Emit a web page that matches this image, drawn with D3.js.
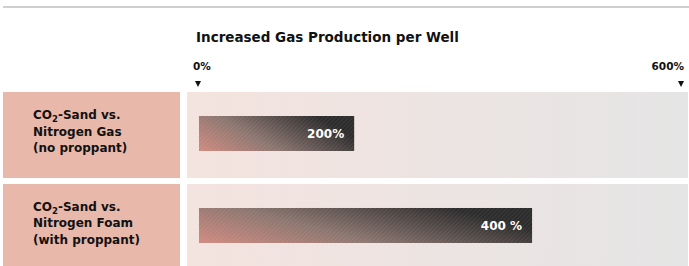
<!DOCTYPE html>
<html>
<head>
<meta charset="utf-8">
<script src="https://cdn.jsdelivr.net/npm/d3@7"></script>
<style>
  html, body { margin: 0; padding: 0; background: #fff; }
  svg { display: block; font-family: "DejaVu Sans", sans-serif; font-weight: bold; }
</style>
</head>
<body>
<div id="chart"></div>
<script>
/* ── data ───────────────────────────────────────────── */
const title = "Increased Gas Production per Well";
const categories = ["N2 gas", "N2 foam"];
const labelLines = [
  ["CO|2|-Sand vs.", "Nitrogen Gas", "(no proppant)"],
  ["CO|2|-Sand vs.", "Nitrogen Foam", "(with proppant)"]
];
const barValues = [194, 415];          // bar lengths as drawn
const barLabels = ["200%", "400 %"];
const tickValues = [0, 600];
const tickLabels = ["0%", "600%"];

/* ── chart ──────────────────────────────────────────── */
const W = 689, H = 266;

const svg = d3.select("#chart").append("svg")
  .attr("width", W).attr("height", H);

const defs = svg.append("defs");

// panel background: pink to grey
const bg = defs.append("linearGradient").attr("id", "bg-grad")
  .attr("x1", 0).attr("x2", 1).attr("y1", 0).attr("y2", 0);
bg.append("stop").attr("offset", "0%").attr("stop-color", "#f4e3df");
bg.append("stop").attr("offset", "100%").attr("stop-color", "#e5e5e5");

// bar fill: salmon to charcoal
const bar = defs.append("linearGradient").attr("id", "bar-grad")
  .attr("x1", 0).attr("y1", 1).attr("x2", 1).attr("y2", 0.6);
bar.append("stop").attr("offset", "0%").attr("stop-color", "#d08a80");
bar.append("stop").attr("offset", "45%").attr("stop-color", "#8c7670");
bar.append("stop").attr("offset", "100%").attr("stop-color", "#2c2c2c");

// fine diagonal hatch on the bars
const hatch = defs.append("pattern").attr("id", "hatch")
  .attr("patternUnits", "userSpaceOnUse")
  .attr("width", 3).attr("height", 3)
  .attr("patternTransform", "rotate(45)");
hatch.append("line")
  .attr("x1", 0).attr("y1", 0).attr("x2", 0).attr("y2", 3)
  .attr("stroke", "#ffffff").attr("stroke-width", 1).attr("opacity", 0.13);

const x = d3.scaleLinear().domain([0, 600]).range([198, 681]);
const y = d3.scaleBand().domain(d3.range(categories.length))
  .range([92, 270]).paddingInner(0.065);

// top rule
svg.append("line")
  .attr("x1", 3).attr("x2", W).attr("y1", 7).attr("y2", 7)
  .attr("stroke", "#cfcfcf").attr("stroke-width", 2);

// title
svg.append("text")
  .attr("x", 196).attr("y", 42)
  .attr("font-size", "13.5px").attr("fill", "#111")
  .text(title);

// tick markers
const ticks = svg.append("g").selectAll("g").data(tickValues).join("g")
  .attr("transform", d => `translate(${x(d)},0)`);
ticks.append("text")
  .attr("x", (d, i) => i === 0 ? -5 : 3)
  .attr("y", 70)
  .attr("text-anchor", (d, i) => i === 0 ? "start" : "end")
  .attr("font-size", "10.5px").attr("fill", "#111")
  .text((d, i) => tickLabels[i]);
ticks.append("path")
  .attr("d", "M-3,81 L3,81 L0,87 Z")
  .attr("fill", "#111");

// rows
const rows = svg.append("g").selectAll("g").data(categories).join("g")
  .attr("transform", (d, i) => `translate(0,${y(i)})`);

rows.append("rect")
  .attr("x", 3).attr("width", 177)
  .attr("height", y.bandwidth())
  .attr("fill", "#e8b9ab");

rows.append("rect")
  .attr("x", 187).attr("width", W - 188)
  .attr("height", y.bandwidth())
  .attr("fill", "url(#bg-grad)");

// left labels
rows.each(function (d, i) {
  const t = d3.select(this).append("text")
    .attr("font-size", "12px").attr("fill", "#111");
  labelLines[i].forEach((line, j) => {
    const parts = line.split("|");
    const base = 27 + j * 16.5;
    parts.forEach((p, k) => {
      const ts = t.append("tspan").text(p);
      if (k === 0) ts.attr("x", 33).attr("y", base);
      if (k === 1) ts.attr("font-size", "8.5px").attr("dy", 3);
      if (k === 2) ts.attr("dy", -3);
    });
  });
});

// bars
rows.append("rect")
  .attr("x", x(0) + 1)
  .attr("y", 24)
  .attr("height", 35)
  .attr("width", (d, i) => x(barValues[i]) - x(0) - 1)
  .attr("fill", "url(#bar-grad)");

rows.append("rect")
  .attr("x", x(0) + 1)
  .attr("y", 24)
  .attr("height", 35)
  .attr("width", (d, i) => x(barValues[i]) - x(0) - 1)
  .attr("fill", "url(#hatch)");

rows.append("text")
  .attr("x", (d, i) => x(barValues[i]) - 10)
  .attr("y", 24 + 17.5 + 4.5)
  .attr("text-anchor", "end")
  .attr("font-size", "12px").attr("fill", "#fff")
  .text((d, i) => barLabels[i]);
</script>
</body>
</html>
